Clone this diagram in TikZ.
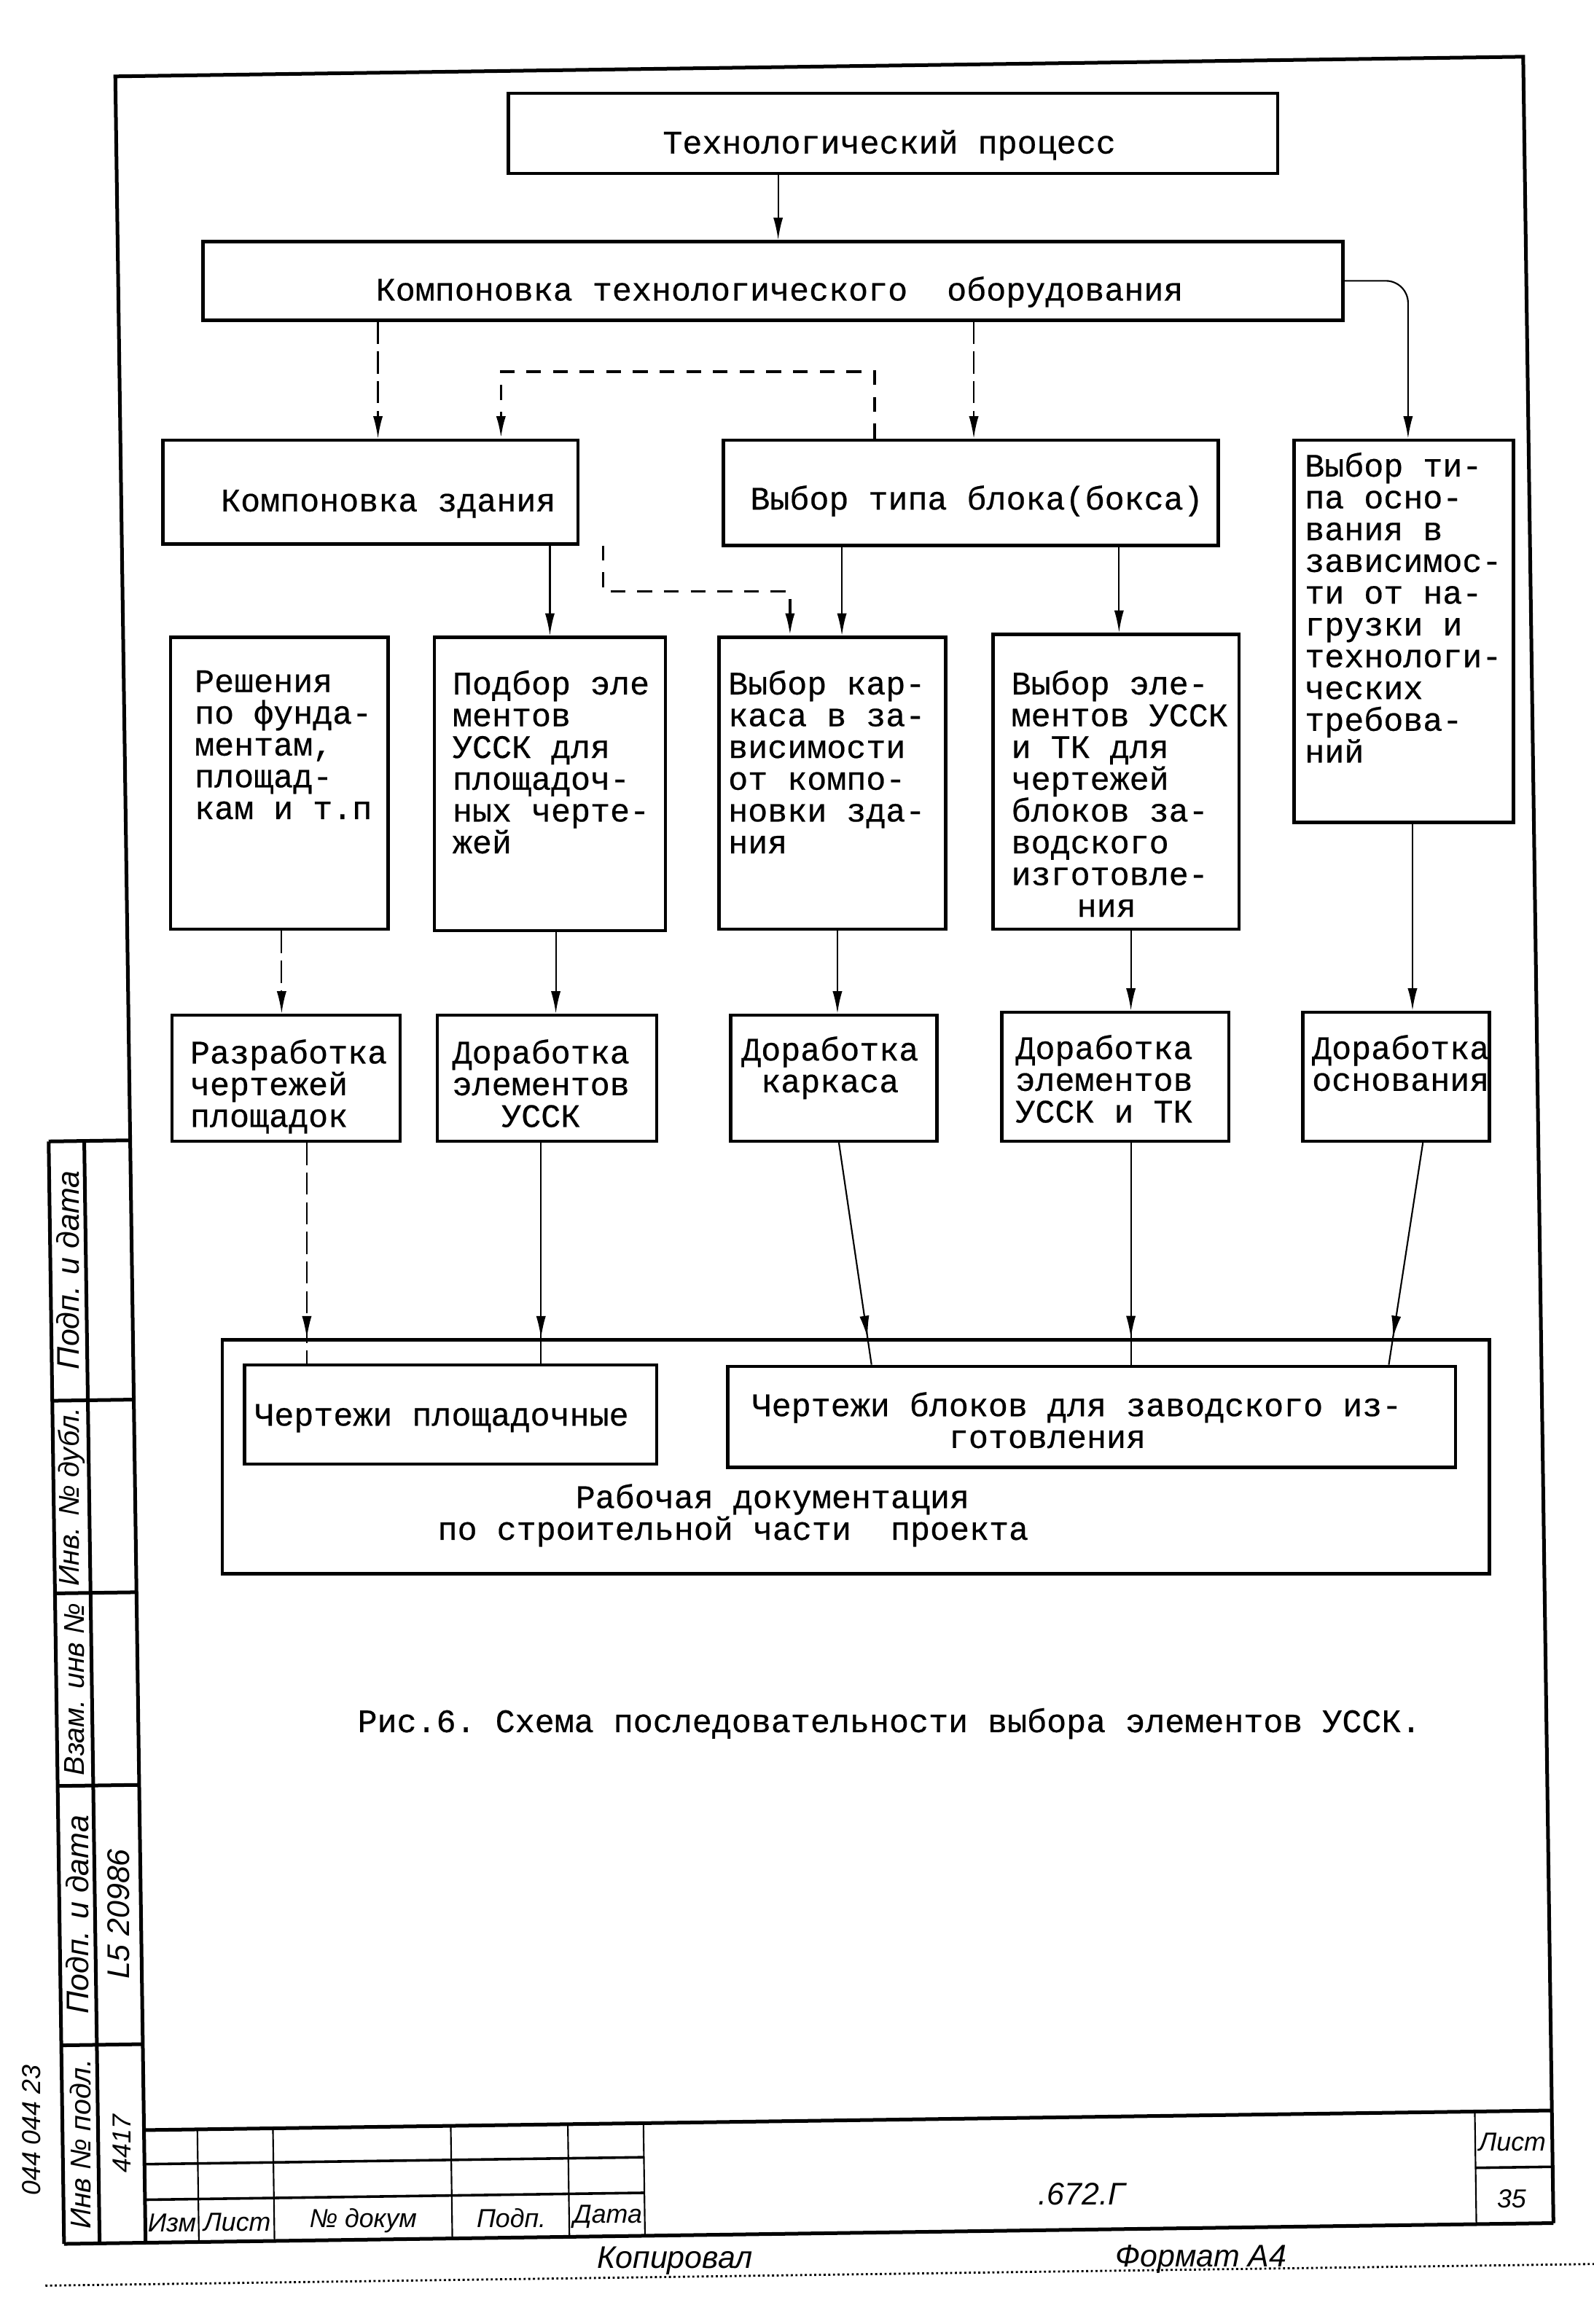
\documentclass[tikz,border=0pt]{standalone}
\usepackage{fontspec}
\setmonofont{Liberation Mono}[FakeBold=0.5]
\setsansfont{Liberation Sans}
\usetikzlibrary{arrows.meta, positioning, decorations.markings}

\begin{document}
\begin{tikzpicture}[
	x=0.2mm, y=-0.2mm,
	box/.style={draw, line width=1.3pt, inner sep=0pt},
	txt/.style={font=\ttfamily\fontsize{12.6}{12.2}\selectfont, inner sep=0pt},
	con/.style={line width=0.6pt, -{Latex[length=3mm, width=1.3mm]}},
	dcon/.style={con, dash pattern=on 3mm off 1mm},
	bdash/.style={line width=1pt, dash pattern=on 2mm off 1.6mm, -{Latex[length=3mm, width=1.3mm]}},
	tipat/.style={line width=0.6pt, postaction={decorate},
		decoration={markings, mark=at position #1 with {\arrow{Latex[length=3mm, width=1.3mm]}}}},
	frame/.style={line width=1.4pt},
	hand/.style={font=\sffamily\itshape\fontsize{12}{12}\selectfont, inner sep=0pt},
	mhand/.style={font=\sffamily\itshape\fontsize{11}{11}\selectfont, inner sep=0pt},
	shand/.style={font=\sffamily\itshape\fontsize{10}{10}\selectfont, inner sep=0pt},
	]
	\useasboundingbox (0,0) rectangle (1075,1568.2);
	
	% Sheet frame, side stamp and title block (the scan is a bit skewed)
	\begin{scope}[rotate around={0.8:(550,780)}]
		\draw[frame] (88,1507) -- (88,45) -- (1038,45) -- (1038,1507);
		\draw[frame] (33,1507) -- (1038,1507);
		\draw[frame] (33,763) -- (88,763);
		\draw[frame] (33,763) -- (33,1507);
		\draw[frame] (57,763) -- (57,1507);
		\foreach \y in {938,1068,1198,1373}
			\draw[frame] (33,\y) -- (88,\y);
		\node[hand, rotate=90] (st1) at (45,850) {Подп. и дата};
		\node[mhand, rotate=90] (st2) at (45,1003) {Инв. № дубл.};
		\node[mhand, rotate=90] (st3) at (45,1133) {Взам. инв №};
		\node[hand, rotate=90] (st4) at (45,1285) {Подп. и дата};
		\node[mhand, rotate=90] (st5) at (45,1440) {Инв № подл.};
		\node[hand, rotate=90] (sg1) at (73,1285) {L5 20986};
		\node[shand, rotate=90] (sg2) at (73,1440) {4417};
		\node[shand, rotate=90] (sg3) at (12,1430) {044 044 23};
		
		% title block
		\draw[frame] (88,1431) -- (1038,1431);
		\foreach \y in {1454,1478}
			\draw[line width=1pt] (88,\y) -- (425,\y);
		\foreach \x in {124,175,295,374,425}
			\draw[line width=0.6pt] (\x,1431) -- (\x,1507);
		\draw[line width=0.6pt] (986,1431) -- (986,1507);
		\draw[line width=1pt] (986,1469) -- (1038,1469);
		\node[shand] (tb1) at (106,1494) {Изм};
		\node[shand] (tb2) at (150,1494) {Лист};
		\node[shand] (tb3) at (235,1494) {№ докум};
		\node[shand] (tb4) at (335,1494) {Подп.};
		\node[shand] (tb5) at (400,1494) {Дата};
		\node[shand] (tb6) at (1011,1452) {Лист};
		\node[shand] (tb7) at (1010,1490) {35};
		\node[hand] (tb8) at (720,1483) {.672.Г};
		\draw[densely dotted, line width=0.8pt] (20,1535) -- (1065,1535);
		\node[hand] (tb9) at (445,1524) {Копировал};
		\node[hand] (tb10) at (800,1528) {Формат А4};
	\end{scope}
	
	% Top of the scheme
	\node[box, minimum width=103.8mm, minimum height=10.8mm] (tp) at (602.5,90) {};
	\node[txt] (tp-t) at (600,98) {Технологический процесс};
	\node[box, minimum width=153.8mm, minimum height=10.6mm] (ktp) at (521.5,189.5) {};
	\node[txt] (ktp-t) at (526,197) {Компоновка технологического\ \ оборудования};
	
	% Second row
	\node[box, minimum width=56mm, minimum height=14mm] (kz) at (250,332) {};
	\node[txt] (kz-t) at (262,340) {Компоновка здания};
	\node[box, minimum width=66.8mm, minimum height=14.2mm] (vtb) at (655,332.5) {};
	\node[txt] (vtb-t) at (659,338) {Выбор типа блока(бокса)};
	\node[box, minimum width=29.6mm, minimum height=51.6mm] (vto) at (947,426) {};
	\node[txt, anchor=north west, align=left] (vto-t) at (880,305)
		{Выбор ти-\\па осно-\\вания в\\зависимос-\\ти от на-\\грузки и\\технологи-\\ческих\\требова-\\ний};
	
	% Third row
	\node[box, minimum width=29.4mm, minimum height=39.4mm] (rf) at (188.5,528.5) {};
	\node[txt, anchor=north west, align=left] (rf-t) at (131,452)
		{Решения\\по фунда-\\ментам,\\площад-\\кам и т.п};
	\node[box, minimum width=31.2mm, minimum height=39.6mm] (pe) at (371,529) {};
	\node[txt, anchor=north west, align=left] (pe-t) at (305,452)
		{Подбор эле\\ментов\\УССК для\\площадоч-\\ных черте-\\жей};
	\node[box, minimum width=30.6mm, minimum height=39.4mm] (vk) at (561.5,528.5) {};
	\node[txt, anchor=north west, align=left] (vk-t) at (491,452)
		{Выбор кар-\\каса в за-\\висимости\\от компо-\\новки зда-\\ния};
	\node[box, minimum width=33.2mm, minimum height=39.8mm] (ve) at (753,527.5) {};
	\node[txt, anchor=north west, align=left] (ve-t) at (682,452)
		{Выбор эле-\\ментов УССК\\и ТК для\\чертежей\\блоков за-\\водского\\изготовле-\\\hspace*{2em}ния};
	
	% Fourth row
	\node[box, minimum width=30.8mm, minimum height=17mm] (rch) at (193,727.5) {};
	\node[txt, anchor=north west, align=left] (rch-t) at (128,701)
		{Разработка\\чертежей\\площадок};
	\node[box, minimum width=29.6mm, minimum height=17mm] (deu) at (369,727.5) {};
	\node[txt, anchor=north, align=center] (deu-t) at (365,701)
		{Доработка\\элементов\\УССК};
	\node[box, minimum width=27.8mm, minimum height=17mm] (dk) at (562.5,727.5) {};
	\node[txt, anchor=north, align=center] (dk-t) at (560,699)
		{Доработка\\каркаса};
	\node[box, minimum width=30.6mm, minimum height=17.4mm] (deut) at (752.5,726.5) {};
	\node[txt, anchor=north, align=center] (deut-t) at (745,698)
		{Доработка\\элементов\\УССК и ТК};
	\node[box, minimum width=25.2mm, minimum height=17.4mm] (do) at (942,726.5) {};
	\node[txt, anchor=north, align=center] (do-t) at (945,698)
		{Доработка\\основания};
	
	% Documentation
	\node[box, minimum width=171mm, minimum height=31.6mm] (doc) at (577.5,983) {};
	\node[txt, anchor=north west, align=left] (doc-t) at (295,1001)
		{\hspace*{4.2em}Рабочая документация\\по строительной части\ \ проекта};
	\node[box, minimum width=55.6mm, minimum height=13.4mm] (cp) at (304,954.5) {};
	\node[txt] (cp-t) at (298,957) {Чертежи площадочные};
	\node[box, minimum width=98.2mm, minimum height=13.6mm] (cb) at (736.5,956) {};
	\node[txt, anchor=north west, align=left] (cb-t) at (507,939)
		{Чертежи блоков для заводского из-\\\hspace*{6em}готовления};
	
	\node[txt] (cap) at (600,1163) {Рис.6. Схема последовательности выбора элементов УССК.};
	
	% Arrows between the rows
	\draw[con] ([xshift=.7mm]ktp.north |- tp.south) -- ([xshift=.7mm]ktp.north);
	\draw[dcon] ([xshift=1mm]kz.north |- ktp.south) -- ([xshift=1mm]kz.north);
	\draw[dcon] ([xshift=.4mm]vtb.north |- ktp.south) -- ([xshift=.4mm]vtb.north);
	\draw[con, rounded corners=3mm] (ktp.east) -| ([xshift=.6mm]vto.north);
	\draw[bdash] ([xshift=-13mm]vtb.north) -- ++(0,-45) -| ([xshift=17.6mm]kz.north);
	
	\draw[con] (pe.north |- kz.south) -- (pe.north);
	\draw[bdash] ([xshift=31.4mm]kz.south) -- ++(0,31) -| ([xshift=-5.7mm]vk.north);
	\draw[con] ([xshift=1.3mm]vk.north |- vtb.south) -- ([xshift=1.3mm]vk.north);
	\draw[con] ([xshift=.4mm]ve.north |- vtb.south) -- ([xshift=.4mm]ve.north);
	
	\draw[dcon] ([xshift=.3mm]rf.south) -- ([xshift=.3mm]rf.south |- rch.north);
	\draw[con] ([xshift=.8mm]pe.south) -- ([xshift=.8mm]pe.south |- deu.north);
	\draw[con] ([xshift=.7mm]vk.south) -- ([xshift=.7mm]vk.south |- dk.north);
	\draw[con] ([xshift=2mm]ve.south) -- ([xshift=2mm]ve.south |- deut.north);
	\draw[con] ([xshift=1.2mm]vto.south) -- ([xshift=1.2mm]vto.south |- do.north);
	
	% Arrows into the documentation
	\draw[tipat=.887, dash pattern=on 3mm off 1mm] ([xshift=2.8mm]rch.south) -- ([xshift=2.8mm]rch.south |- cp.north);
	\draw[tipat=.887] ([xshift=-.8mm]deu.south) -- ([xshift=-.8mm]deu.south |- cp.north);
	\draw[tipat=.88] ([xshift=.7mm]dk.south) -- ([xshift=-29.7mm]cb.north);
	\draw[tipat=.88] ([xshift=2.1mm]deut.south) -- ([xshift=2.1mm]deut.south |- cb.north);
	\draw[tipat=.88] ([xshift=3.6mm]do.south) -- ([xshift=40.1mm]cb.north);
	
\end{tikzpicture}
\end{document}
